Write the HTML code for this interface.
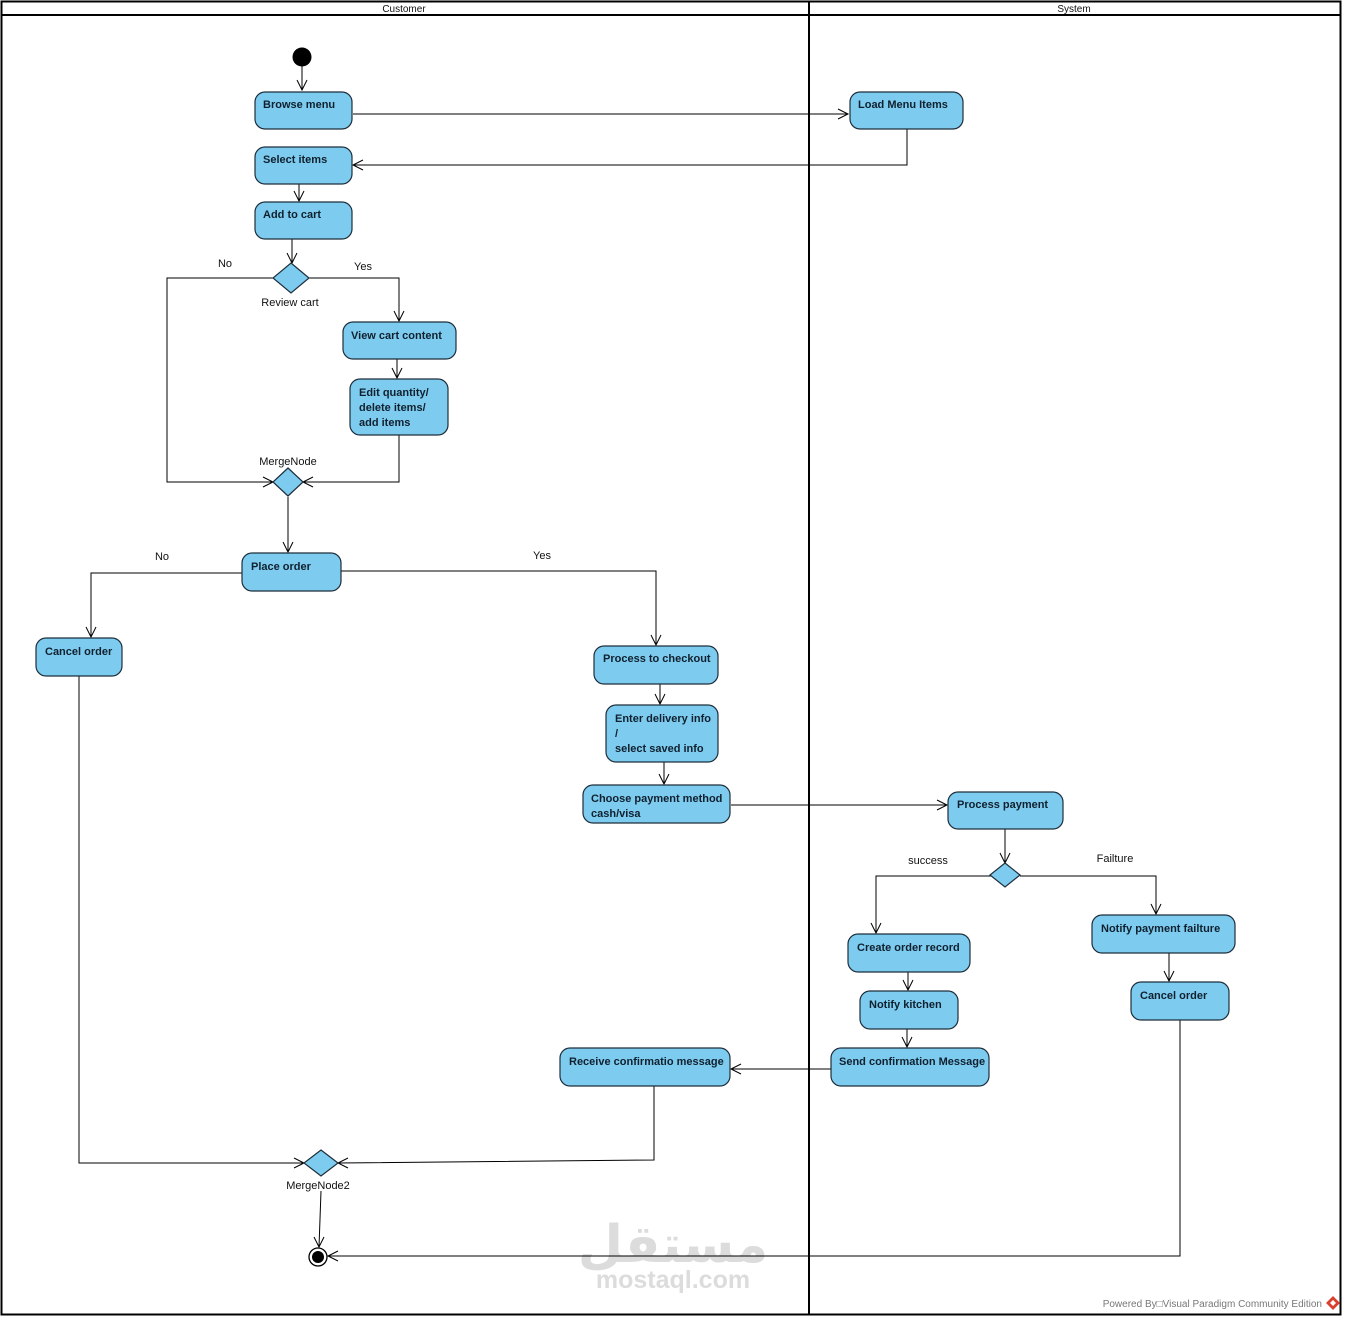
<!DOCTYPE html>
<html><head><meta charset="utf-8"><style>
html,body{margin:0;padding:0;background:#fff;}
svg{display:block;}
.n{fill:#7dccf0;stroke:#1e2e3a;stroke-width:1.2;}
.t{font-family:"Liberation Sans",Arial,sans-serif;font-size:11px;font-weight:bold;fill:#10202e;}
.l{font-family:"Liberation Sans",Arial,sans-serif;font-size:11px;fill:#111;}
.e{fill:none;stroke:#000;stroke-width:1;}
</style></head><body>
<svg width="1346" height="1320" viewBox="0 0 1346 1320" xmlns="http://www.w3.org/2000/svg">
<rect x="0" y="0" width="1346" height="1320" fill="#fff"/>
<!-- frame -->
<rect x="1.5" y="1.5" width="1339" height="1313" fill="none" stroke="#000" stroke-width="2"/>
<line x1="1" y1="15" x2="1341" y2="15" stroke="#000" stroke-width="2"/>
<line x1="809" y1="1" x2="809" y2="1315" stroke="#000" stroke-width="2"/>
<text x="404" y="12" text-anchor="middle" class="l" style="font-size:10px">Customer</text>
<text x="1074" y="12" text-anchor="middle" class="l" style="font-size:10px">System</text>

<!-- watermark -->
<text x="673" y="1262" text-anchor="middle" font-family="DejaVu Sans, sans-serif" font-size="52" font-weight="bold" fill="#dcdcdc">مستقل</text>
<text x="673" y="1288" text-anchor="middle" font-family="Liberation Sans, sans-serif" font-size="25" font-weight="bold" fill="#dcdcdc">mostaql.com</text>

<!-- edges -->
<g class="e">
<path d="M302,66 L302,90"/><path d="M297,80 L302,90 L307,80"/>
<path d="M353,114 L848,114"/><path d="M838,109 L848,114 L838,119"/>
<path d="M907,129 L907,165 L353,165"/><path d="M363,160 L353,165 L363,170"/>
<path d="M299,184 L299,201"/><path d="M294,191 L299,201 L304,191"/>
<path d="M292,239 L292,263"/><path d="M287,253 L292,263 L297,253"/>
<path d="M309,278 L399,278 L399,321"/><path d="M394,311 L399,321 L404,311"/>
<path d="M273,278 L167,278 L167,482 L273,482"/><path d="M263,477 L273,482 L263,487"/>
<path d="M397,359 L397,378"/><path d="M392,368 L397,378 L402,368"/>
<path d="M399,435 L399,482 L303,482"/><path d="M313,477 L303,482 L313,487"/>
<path d="M288,497 L288,552"/><path d="M283,542 L288,552 L293,542"/>
<path d="M242,573 L91,573 L91,637"/><path d="M86,627 L91,637 L96,627"/>
<path d="M341,571 L656,571 L656,645"/><path d="M651,635 L656,645 L661,635"/>
<path d="M660,684 L660,704"/><path d="M655,694 L660,704 L665,694"/>
<path d="M664,762 L664,784"/><path d="M659,774 L664,784 L669,774"/>
<path d="M731,805 L947,805"/><path d="M937,800 L947,805 L937,810"/>
<path d="M1005,829 L1005,863"/><path d="M1000,853 L1005,863 L1010,853"/>
<path d="M991,876 L876,876 L876,933"/><path d="M871,923 L876,933 L881,923"/>
<path d="M1020,876 L1156,876 L1156,914"/><path d="M1151,904 L1156,914 L1161,904"/>
<path d="M1169,953 L1169,981"/><path d="M1164,971 L1169,981 L1174,971"/>
<path d="M908,972 L908,990"/><path d="M903,980 L908,990 L913,980"/>
<path d="M907,1029 L907,1047"/><path d="M902,1037 L907,1047 L912,1037"/>
<path d="M831,1069 L731,1069"/><path d="M741,1064 L731,1069 L741,1074"/>
<path d="M654,1086 L654,1160 L338,1163"/><path d="M348,1158 L338,1163 L348,1168"/>
<path d="M79,676 L79,1163 L304,1163"/><path d="M294,1158 L304,1163 L294,1168"/>
<path d="M321,1191 L319,1247"/><path d="M314,1237 L319,1247 L324,1237"/>
<path d="M1180,1020 L1180,1256 L328,1256"/><path d="M338,1251 L328,1256 L338,1261"/>
</g>

<!-- initial node -->
<circle cx="302" cy="57" r="9.5" fill="#000"/>
<!-- final node -->
<circle cx="318" cy="1257" r="9" fill="#fff" stroke="#000" stroke-width="1.3"/>
<circle cx="318" cy="1257" r="6" fill="#000"/>

<!-- diamonds -->
<polygon class="n" points="291,263 309,278 291,293 273,278"/>
<polygon class="n" points="288,468 303,482 288,496 273,482"/>
<polygon class="n" points="1005,863 1020,875 1005,887 990,875"/>
<polygon class="n" points="321,1150 338,1163 321,1176 304,1163"/>

<!-- labels -->
<text x="290" y="306" text-anchor="middle" class="l">Review cart</text>
<text x="225" y="267" text-anchor="middle" class="l">No</text>
<text x="363" y="270" text-anchor="middle" class="l">Yes</text>
<text x="288" y="465" text-anchor="middle" class="l">MergeNode</text>
<text x="162" y="560" text-anchor="middle" class="l">No</text>
<text x="542" y="559" text-anchor="middle" class="l">Yes</text>
<text x="928" y="864" text-anchor="middle" class="l">success</text>
<text x="1115" y="862" text-anchor="middle" class="l">Failture</text>
<text x="318" y="1189" text-anchor="middle" class="l">MergeNode2</text>

<!-- action nodes -->
<rect class="n" x="255" y="92" width="97" height="37" rx="10"/>
<text class="t" x="263" y="108">Browse menu</text>
<rect class="n" x="850" y="92" width="113" height="37" rx="10"/>
<text class="t" x="858" y="108">Load Menu Items</text>
<rect class="n" x="255" y="147" width="97" height="37" rx="10"/>
<text class="t" x="263" y="163">Select items</text>
<rect class="n" x="255" y="202" width="97" height="37" rx="10"/>
<text class="t" x="263" y="218">Add to cart</text>
<rect class="n" x="343" y="322" width="113" height="37" rx="10"/>
<text class="t" x="351" y="339">View cart content</text>
<rect class="n" x="350" y="379" width="98" height="56" rx="10"/>
<text class="t" x="359" y="396">Edit quantity/</text>
<text class="t" x="359" y="411">delete items/</text>
<text class="t" x="359" y="426">add items</text>
<rect class="n" x="242" y="553" width="99" height="38" rx="10"/>
<text class="t" x="251" y="570">Place order</text>
<rect class="n" x="36" y="638" width="86" height="38" rx="10"/>
<text class="t" x="45" y="655">Cancel order</text>
<rect class="n" x="594" y="646" width="124" height="38" rx="10"/>
<text class="t" x="603" y="662">Process to checkout</text>
<rect class="n" x="606" y="705" width="112" height="57" rx="10"/>
<text class="t" x="615" y="722">Enter delivery info</text>
<text class="t" x="615" y="737">/</text>
<text class="t" x="615" y="752">select saved info</text>
<rect class="n" x="583" y="785" width="147" height="38" rx="10"/>
<text class="t" x="591" y="802">Choose payment method</text>
<text class="t" x="591" y="817">cash/visa</text>
<rect class="n" x="948" y="792" width="115" height="37" rx="10"/>
<text class="t" x="957" y="808">Process payment</text>
<rect class="n" x="848" y="934" width="122" height="38" rx="10"/>
<text class="t" x="857" y="951">Create order record</text>
<rect class="n" x="1092" y="915" width="143" height="38" rx="10"/>
<text class="t" x="1101" y="932">Notify payment failture</text>
<rect class="n" x="860" y="991" width="98" height="38" rx="10"/>
<text class="t" x="869" y="1008">Notify kitchen</text>
<rect class="n" x="1131" y="982" width="98" height="38" rx="10"/>
<text class="t" x="1140" y="999">Cancel order</text>
<rect class="n" x="831" y="1048" width="158" height="38" rx="10"/>
<text class="t" x="839" y="1065">Send confirmation Message</text>
<rect class="n" x="560" y="1048" width="170" height="38" rx="10"/>
<text class="t" x="569" y="1065">Receive confirmatio message</text>

<!-- footer -->
<text x="1322" y="1307" text-anchor="end" font-family="Liberation Sans, sans-serif" font-size="10" fill="#777">Powered By□Visual Paradigm Community Edition</text>
<polygon points="1333,1296 1340,1303 1333,1310 1326,1303" fill="#d9412e"/>
<polygon points="1333,1300 1336,1303 1333,1306 1330,1303" fill="#fff"/>
</svg>
</body></html>
